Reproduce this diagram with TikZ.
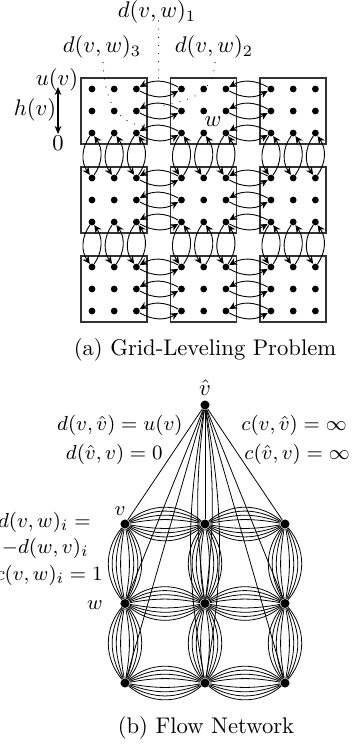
\documentclass[tikz,border=0pt]{standalone}
\usetikzlibrary{arrows.meta}
\begin{document}
\begin{tikzpicture}[x=0.442pt,y=-0.442pt,
  dotA/.style={circle,fill=black,inner sep=0pt,minimum size=3pt},
  dotB/.style={circle,fill=black,inner sep=0pt,minimum size=4pt},
  boxA/.style={draw=black!80,line width=0.45pt},
  biarc/.style={line width=0.4pt,-{Stealth[length=3.4pt,width=3.2pt]}},
  lensline/.style={line width=0.35pt},
  fanline/.style={line width=0.35pt},
  leader/.style={line width=0.5pt,line cap=round,dash pattern=on 0pt off 3.6pt},
  lbl/.style={inner sep=0pt},
  lblb/.style={inner sep=0pt,font=\fontsize{9.4}{11}\selectfont}
]
\useasboundingbox (0,0) rectangle (353,744);

% ---------- (a) grid-leveling problem ----------
\foreach \c in {0,1,2} \foreach \r in {0,1,2} {
  \draw[boxA] ({81+89.5*\c},{78+89*\r}) rectangle ++(66,66);
}
\foreach \c in {0,1,2} \foreach \r in {0,1,2} \foreach \i in {0,1,2} \foreach \j in {0,1,2} {
  \pgfmathtruncatemacro\X{3*\c+\j}
  \pgfmathtruncatemacro\Y{3*\r+\i}
  \node[dotA] (p-\X-\Y) at ({92+89.5*\c+22.2*\j},{89+89*\r+22*\i}) {};
}
\foreach \Y in {0,...,8} \foreach \X/\XX in {2/3,5/6} {
  \draw[biarc] (p-\X-\Y) to[bend right=30] (p-\XX-\Y);
  \draw[biarc] (p-\XX-\Y) to[bend right=30] (p-\X-\Y);
}
\foreach \X in {0,...,8} \foreach \Y/\YY in {2/3,5/6} {
  \draw[biarc] (p-\X-\Y) to[bend right=35] (p-\X-\YY);
  \draw[biarc] (p-\X-\YY) to[bend right=35] (p-\X-\Y);
}

\node[lbl] (l1) at (157,12) {$d(v,w)_1$};
\node[lbl] (l3) at (102,47) {$d(v,w)_3$};
\node[lbl] (l2) at (214,47) {$d(v,w)_2$};
\coordinate (t1) at (158.5,83);
\coordinate (t3) at (149,127);
\coordinate (t2) at (161,106);
\draw[leader] (158.5,21) -- (t1);
\draw[leader] (l3.south) ++(1,4) .. controls (105,100) and (115,124) .. (t3);
\draw[leader] (l2.south) ++(1,4) .. controls (213,95) and (190,100) .. (t2);

\node[lbl] (uv) at (57,80) {$u(v)$};
\node[lbl] (hv) at (35,110) {$h(v)$};
\node[lbl] (zero) at (58,143) {$0$};
\coordinate (hu) at (58,87);
\coordinate (h0) at (58,134);
\draw[line width=0.45pt,{Stealth[length=3.6pt,width=3pt]}-{Stealth[length=3.6pt,width=3pt]}] (hu) -- (h0);
\node[lbl] (wlab) at (213,122) {$w$};

\node[lbl] (capa) at (205,350) {(a) Grid-Leveling Problem};

% ---------- (b) flow network ----------
\node[dotB] (vh) at (205,405) {};
\node[lbl] (vhl) at (205,388) {$\hat v$};
\foreach \i in {0,1,2} \foreach \j in {0,1,2} {
  \node[dotB] (g-\i-\j) at ({125+80*\j},{524+79.5*\i}) {};
}
\foreach \i/\j in {0/0,1/0,2/0,0/1,0/2,1/2,2/2} {
  \draw[fanline] (vh) -- (g-\i-\j);
}
\draw[fanline] (vh) to[bend left=7] (g-1-1);
\draw[fanline] (vh) to[bend right=7] (g-1-1);
\draw[fanline] (vh) to[bend left=10] (g-2-1);
\draw[fanline] (vh) to[bend right=10] (g-2-1);
\foreach \i in {0,1,2} \foreach \j/\jj in {0/1,1/2} \foreach \b in {10,20,30,40} {
  \draw[lensline] (g-\i-\j) to[bend left=\b] (g-\i-\jj);
  \draw[lensline] (g-\i-\j) to[bend right=\b] (g-\i-\jj);
}
\foreach \j in {0,1,2} \foreach \i/\ii in {0/1,1/2} \foreach \b in {10,20,30,40} {
  \draw[lensline] (g-\i-\j) to[bend left=\b] (g-\ii-\j);
  \draw[lensline] (g-\i-\j) to[bend right=\b] (g-\ii-\j);
}

\node[lblb,anchor=east] (dvv) at (183,425) {$d(v,\hat v)=u(v)$};
\node[lblb,anchor=east] (dvv0) at (163,454) {$d(\hat v,v)=0$};
\node[lblb,anchor=west] (cvv) at (241,425) {$c(v,\hat v)=\infty$};
\node[lblb,anchor=west] (cvv2) at (244,454) {$c(\hat v,v)=\infty$};

\node[lblb,anchor=east] (dw1) at (91,522) {$d(v,w)_i=$};
\node[lblb,anchor=east] (dw2) at (89,548) {$-d(w,v)_i$};
\node[lblb,anchor=east] (dw3) at (103,575) {$c(v,w)_i=1$};
\node[lblb] (vlab) at (120,511) {$v$};
\node[lblb] (wlab2) at (95,605) {$w$};

\node[lbl] (capb) at (206,728) {(b) Flow Network};
\end{tikzpicture}
\end{document}
